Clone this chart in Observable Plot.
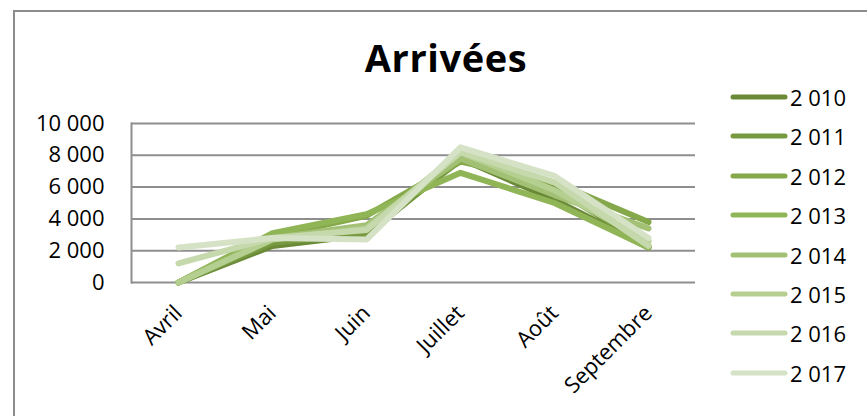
<!DOCTYPE html>
<html>
<head>
<meta charset="utf-8">
<script src="https://cdn.jsdelivr.net/npm/d3@7"></script>
<script src="https://cdn.jsdelivr.net/npm/@observablehq/plot@0.6"></script>
<style>
  html, body { margin: 0; padding: 0; background: #fff; }
  #wrap { position: relative; width: 867px; height: 416px; overflow: hidden; font-family: "Open Sans", sans-serif; }
  #frame { position: absolute; left: 13px; top: 10px; width: 900px; height: 450px; border: 2px solid #8c8c8c; box-sizing: border-box; }
  #title { position: absolute; left: 0; width: 892px; top: 34px; text-align: center; font-weight: bold; font-size: 38px; letter-spacing: 0.6px; line-height: 46px; color: #000; }
  #legend { position: absolute; left: 729px; top: 0; }
  .item { position: absolute; left: 0; width: 140px; height: 28px; display: flex; align-items: center; white-space: nowrap; font-size: 22px; color: #000; }
  .item svg { margin-right: 1px; }
  #chart { position: absolute; left: 0; top: 0; }
</style>
</head>
<body>
<div id="wrap">
  <div id="frame"></div>
  <div id="chart"></div>
  <div id="title">Arrivées</div>
  <div id="legend"></div>
</div>
<script>
const months = ["Avril", "Mai", "Juin", "Juillet", "Août", "Septembre"];
const years = ["2 010", "2 011", "2 012", "2 013", "2 014", "2 015", "2 016", "2 017"];
const colors = ["#6b8a38", "#779a40", "#84a84a", "#90b556", "#a2c174", "#b5cf91", "#c6d9ad", "#d6e2c6"];
const yTicks = [0, 2000, 4000, 6000, 8000, 10000];
const yTickLabels = ["0", "2 000", "4 000", "6 000", "8 000", "10 000"];

const v2010 = [0, 2300, 3000, 7800, 5200, 2200];
const v2011 = [0, 2500, 3100, 7700, 5900, 2300];
const v2012 = [0, 2900, 4200, 7600, 6300, 3800];
const v2013 = [0, 3100, 4300, 6900, 5000, 2200];
const v2014 = [0, 2800, 3600, 7800, 5500, 3400];
const v2015 = [0, 2700, 3400, 8200, 5800, 2600];
const v2016 = [1200, 2800, 3300, 8200, 6300, 2300];
const v2017 = [2200, 2800, 2700, 8500, 6700, 2800];
const series = [v2010, v2011, v2012, v2013, v2014, v2015, v2016, v2017];

const data = series.flatMap((vals, i) => vals.map((v, j) => ({year: years[i], month: months[j], value: v})));

const chart = Plot.plot({
  width: 867,
  height: 416,
  marginTop: 123,
  marginBottom: 134,
  marginLeft: 131,
  marginRight: 172,
  style: {fontFamily: "Open Sans, sans-serif", fontSize: "22px", color: "#000", background: "transparent"},
  x: {type: "point", domain: months, padding: 0.5},
  y: {domain: [0, 10000]},
  color: {domain: years, range: colors},
  marks: [
    Plot.gridY(yTicks, {stroke: "#8e8e8e", strokeOpacity: 1, strokeWidth: 2}),
    Plot.frame({anchor: "left", stroke: "#8e8e8e", strokeWidth: 2}),
    Plot.axisY(yTicks, {tickSize: 0, tickPadding: 27, tickFormat: (d) => yTickLabels[yTicks.indexOf(d)], label: null, fontSize: 22}),
    Plot.axisX({tickRotate: -45, tickSize: 0, tickPadding: 27, dx: 0, label: null, fontSize: 22}),
    Plot.lineY(data, {x: "month", y: "value", z: "year", stroke: "year", strokeWidth: 6})
  ]
});
document.getElementById("chart").appendChild(chart);

const legend = document.getElementById("legend");
years.forEach((y, i) => {
  const d = document.createElement("div");
  d.className = "item";
  d.style.top = (83 + i * 39.4) + "px";
  d.innerHTML = `<svg width="60" height="8"><line x1="4" y1="4" x2="56" y2="4" stroke="${colors[i]}" stroke-width="5" stroke-linecap="round"/></svg><span>${y}</span>`;
  legend.appendChild(d);
});
</script>
</body>
</html>
